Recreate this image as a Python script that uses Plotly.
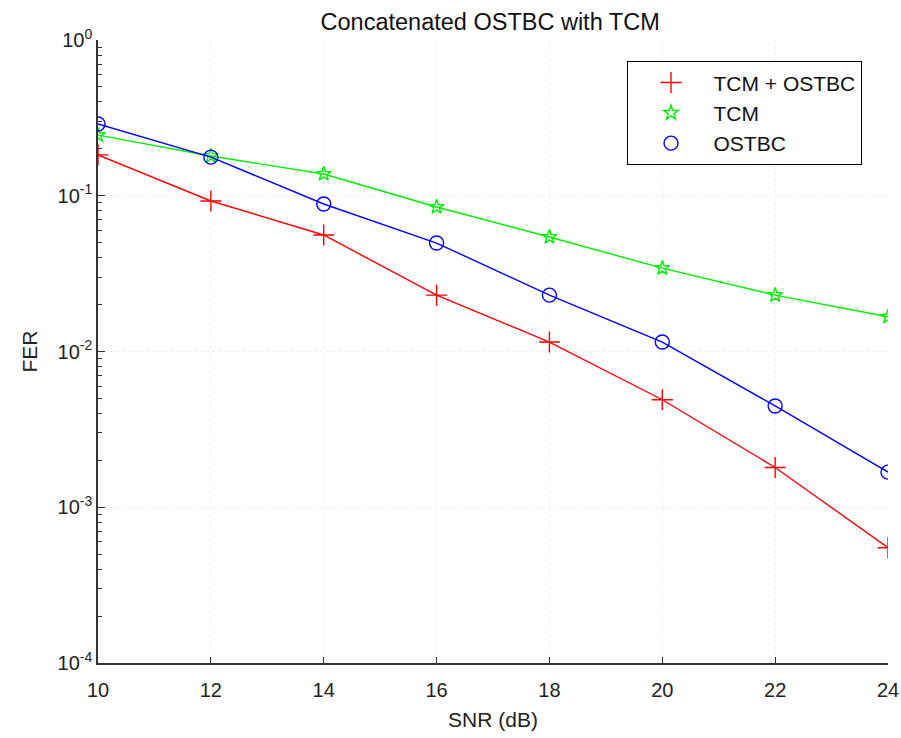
import plotly.graph_objects as go

snr = [10, 12, 14, 16, 18, 20, 22, 24]
fer_tcm_ostbc = [0.183, 0.0925, 0.056, 0.023, 0.0115, 0.0049, 0.0018, 0.00055]
fer_tcm = [0.245, 0.18, 0.138, 0.0847, 0.0543, 0.0343, 0.023, 0.0167]
fer_ostbc = [0.289, 0.177, 0.0885, 0.0497, 0.023, 0.0115, 0.00447, 0.00168]

x_ticks = [10, 12, 14, 16, 18, 20, 22, 24]
y_ticks = [1e-4, 1e-3, 1e-2, 1e-1, 1]
y_ticktext = ["10<sup>-4</sup>", "10<sup>-3</sup>", "10<sup>-2</sup>", "10<sup>-1</sup>", "10<sup>0</sup>"]

series = [
    ("TCM + OSTBC", fer_tcm_ostbc, "#ff0000", "cross-thin-open", 15),
    ("TCM", fer_tcm, "#00ee00", "star-open", 11),
    ("OSTBC", fer_ostbc, "#0000ff", "circle-open", 14),
]

fig = go.Figure()
for name, vals, col, sym, sz in series:
    fig.add_trace(go.Scatter(x=snr, y=vals, name=name, mode="lines+markers", showlegend=False,
                             line=dict(color=col, width=1.4),
                             marker=dict(symbol=sym, size=sz, color=col, line=dict(color=col, width=1.4))))
for name, vals, col, sym, sz in series:
    fig.add_trace(go.Scatter(x=[None], y=[None], name=name, mode="markers",
                             marker=dict(symbol=sym, size=sz, color=col, line=dict(color=col, width=1.4))))

base_font = dict(family="Liberation Sans, Arial, sans-serif", size=20, color="#222")
fig.update_layout(
    width=901, height=738,
    margin=dict(l=98, r=13, t=40, b=75, autoexpand=False),
    paper_bgcolor="white", plot_bgcolor="white",
    font=base_font,
    title=dict(text="Concatenated OSTBC with TCM", x=0.544, xanchor="center", y=0.97, yanchor="middle",
               font=dict(size=23.5, color="#111")),
    showlegend=True,
    legend=dict(x=0.67, y=0.966, xanchor="left", yanchor="top",
                bordercolor="#000", borderwidth=1.2, bgcolor="white",
                font=dict(size=21, color="#111"), itemwidth=75,
                tracegroupgap=0),
    xaxis=dict(range=[10, 24], tickvals=x_ticks, showline=True, linecolor="#333", linewidth=1.5,
               ticks="inside", ticklen=6, tickcolor="#333", zeroline=False, automargin=False,
               showgrid=True, gridcolor="#efefef", griddash="dot", gridwidth=1,
               ticklabelstandoff=8,
               tickfont=dict(size=20), title=dict(text="SNR (dB)", standoff=13, font=dict(size=21))),
    yaxis=dict(type="log", range=[-4, 0], tickvals=y_ticks, ticktext=y_ticktext,
               showline=True, linecolor="#333", linewidth=1.5, automargin=False,
               ticks="inside", ticklen=7, tickcolor="#333", zeroline=False,
               showgrid=True, gridcolor="#efefef", griddash="dot", gridwidth=1,
               minor=dict(ticks="inside", ticklen=4, tickcolor="#333", showgrid=False,
                          tickvals=[m * 10 ** e for e in range(-4, 0) for m in range(2, 10)]),
               tickfont=dict(size=20), title=dict(text="FER", standoff=14, font=dict(size=21))),
)

fig.write_html("out.html", config={"displayModeBar": False},
               post_script="document.body.style.margin='0';document.body.style.overflow='hidden';")
